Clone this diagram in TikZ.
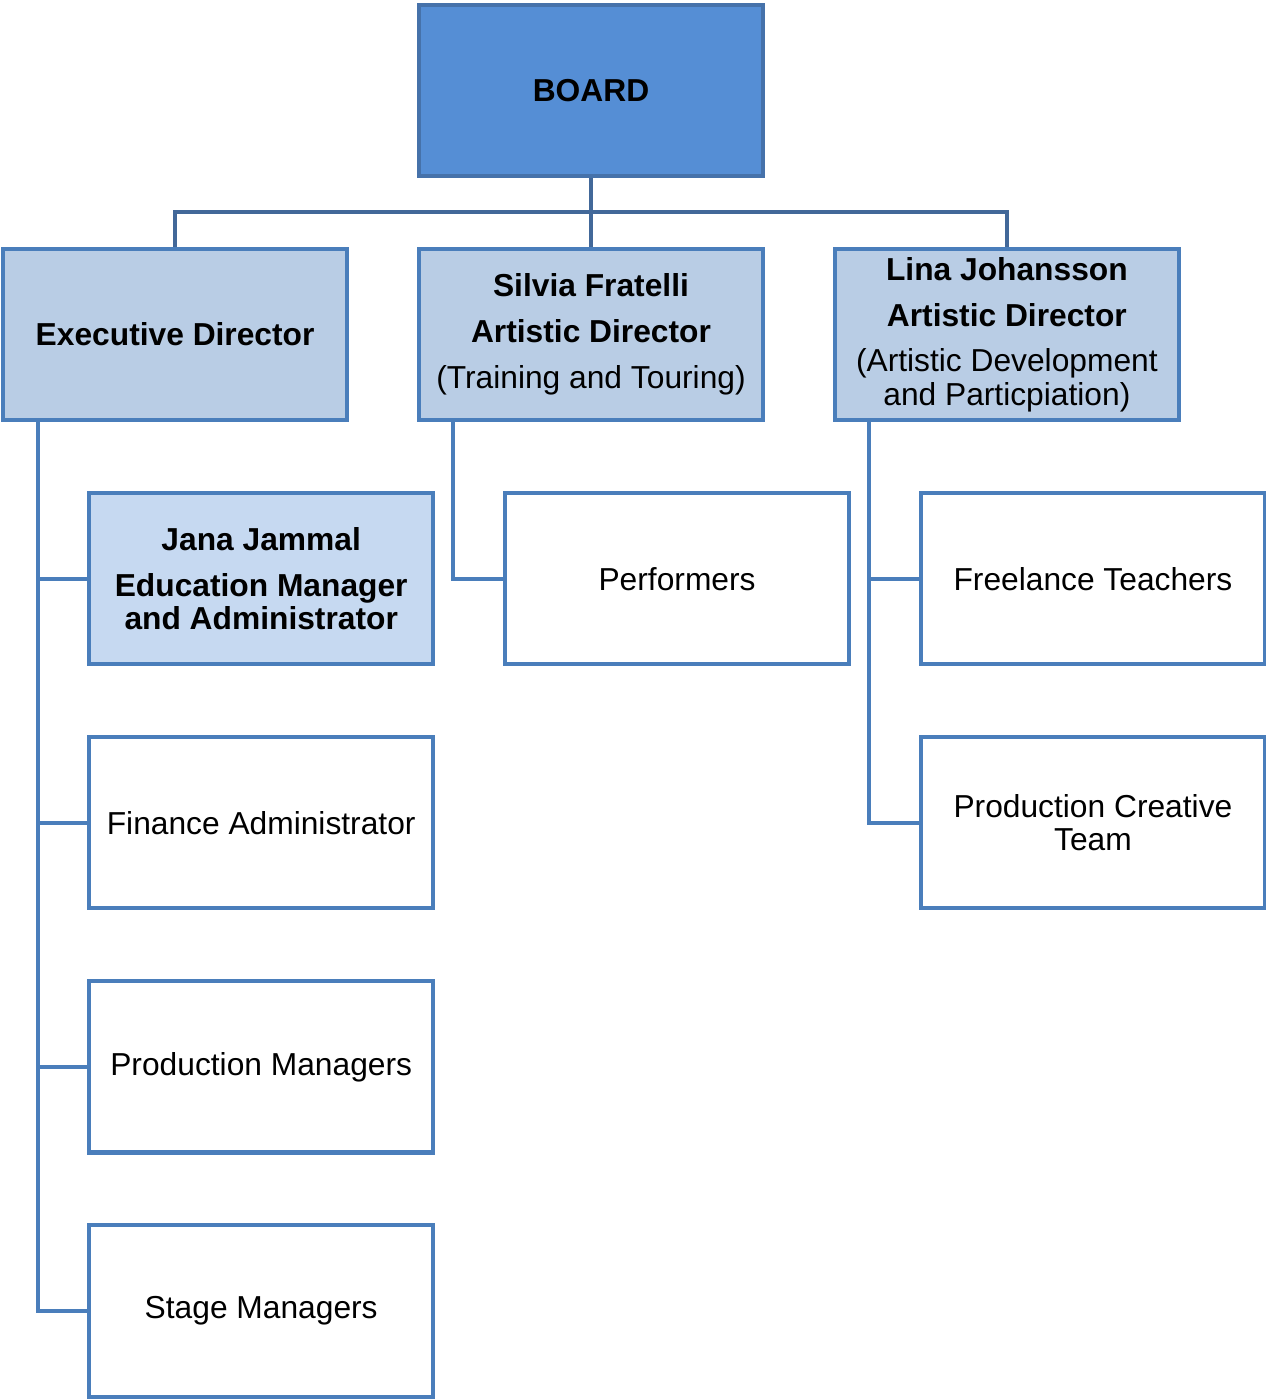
\documentclass[tikz,border=0pt]{standalone}
\usepackage{fontspec}
\setmainfont{Liberation Sans}
\usepackage{tikz}
\usetikzlibrary{positioning}

\definecolor{boardfill}{HTML}{558ED5}
\definecolor{boardedge}{HTML}{4672AA}
\definecolor{headfill}{HTML}{B9CDE5}
\definecolor{janafill}{HTML}{C6D9F1}
\definecolor{boxedge}{HTML}{4A7EBB}
\definecolor{topline}{HTML}{426899}

\tikzset{
    orgbox/.style={draw=boxedge, line width=2.3pt, rectangle, align=center,
        minimum width=195pt, minimum height=97.1pt, inner sep=0pt,
        font=\fontsize{18}{19}\selectfont},
    boardbox/.style={orgbox, fill=boardfill, draw=boardedge, font=\fontsize{18}{19}\selectfont\bfseries},
    headbox/.style={orgbox, fill=headfill},
    managerbox/.style={orgbox, fill=janafill},
    staffbox/.style={orgbox, fill=white},
    link/.style={draw=boxedge, line width=2.3pt},
    toplink/.style={draw=topline, line width=2.3pt}
}

\begin{document}
\begin{tikzpicture}[x=0.567pt, y=-0.567pt, node distance=39pt]
        \useasboundingbox (0,0) rectangle (1266,1400);

        % Board and directors
        \node[boardbox] (board) at (591,90.5) {BOARD};
        \node[headbox, below=of board] (silvia)
            {\textbf{Silvia Fratelli}\\[7pt]\textbf{Artistic Director}\\[7pt](Training and Touring)};
        \node[headbox, left=38.5pt of silvia] (exec) {\textbf{Executive Director}};
        \node[headbox, right=38.5pt of silvia] (lina)
            {\textbf{Lina Johansson}\\[7pt]\textbf{Artistic Director}\\[7pt](Artistic Development\\and Particpiation)};

        % Staff under each director
        \node[managerbox, below=of exec, xshift=48.8pt] (jana)
            {\textbf{Jana Jammal}\\[7pt]\textbf{Education Manager}\\\textbf{and Administrator}};
        \node[staffbox, below=of jana] (finance) {Finance Administrator};
        \node[staffbox, below=of finance] (prodman) {Production Managers};
        \node[staffbox, below=of prodman] (stageman) {Stage Managers};

        \node[staffbox, below=of silvia, xshift=48.8pt] (performers) {Performers};

        \node[staffbox, below=of lina, xshift=48.8pt] (freelance) {Freelance Teachers};
        \node[staffbox, below=of freelance] (creative) {Production Creative\\Team};

        % Lines from the board
        \coordinate (bus) at (591,212);
        \draw[toplink] (board.south) -- (bus);
        \draw[toplink] (exec.north) |- (bus) -| (lina.north);
        \draw[toplink] (bus) -- (silvia.north);

        % Lines to the staff
        \coordinate (execspine) at (38,420);
        \coordinate (silviaspine) at (453,420);
        \coordinate (linaspine) at (869,420);
        \foreach \child in {jana, finance, prodman}
            \draw[link] (execspine) |- (\child.west);
        \draw[link] (execspine) |- (stageman.west);
        \draw[link] (silviaspine) |- (performers.west);
        \draw[link] (linaspine) |- (freelance.west);
        \draw[link] (linaspine) |- (creative.west);
    \end{tikzpicture}
\end{document}
